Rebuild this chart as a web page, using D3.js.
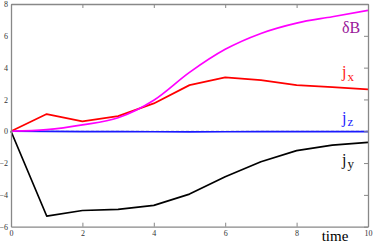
<!DOCTYPE html>
<html>
<head>
<meta charset="utf-8">
<script src="https://cdn.jsdelivr.net/npm/d3@7"></script>
<style>
  body { margin: 0; background: #fff; }
</style>
</head>
<body>
<div id="container"></div>
<script>
let w = 374;
let h = 243;

// data
let times = [0, 1, 2, 3, 4, 5, 6, 7, 8, 9, 10];
let deltaB = [0, 0.1, 0.4, 0.85, 1.95, 3.7, 5.15, 6.15, 6.8, 7.2, 7.6];
let jx = [0, 1.08, 0.62, 0.95, 1.75, 2.9, 3.39, 3.22, 2.9, 2.78, 2.63];
let jy = [0, -5.33, -4.98, -4.91, -4.66, -3.95, -2.86, -1.92, -1.22, -0.87, -0.7];
let jz = [0, -0.01, -0.02, -0.02, -0.03, -0.04, -0.03, -0.02, -0.02, -0.02, -0.02];
let xTicks = [0, 2, 4, 6, 8, 10];
let yTicks = [-6, -4, -2, 0, 2, 4, 6, 8];

let serif = "Liberation Serif";

let viz = d3.select("#container")
  .append("svg")
    .attr("width", w)
    .attr("height", h);

let xScale = d3.scaleLinear().domain([0, 10]).range([11, 368]);
let yScale = d3.scaleLinear().domain([-6, 8]).range([226.7, 4]);

// zero line (dashed)
viz.append("line")
  .attr("x1", xScale(0)).attr("x2", xScale(10))
  .attr("y1", yScale(0)).attr("y2", yScale(0))
  .attr("stroke", "#999")
  .attr("stroke-width", 1)
  .attr("stroke-dasharray", "3,2");

// series
let series = [
  { name: "jz", values: jz, color: "#1a1aff", curve: d3.curveLinear },
  { name: "jy", values: jy, color: "#000000", curve: d3.curveLinear },
  { name: "jx", values: jx, color: "#ff0000", curve: d3.curveLinear },
  { name: "dB", values: deltaB, color: "#ff00ff", curve: d3.curveMonotoneX }
];

series.forEach(function(s){
  let lineMaker = d3.line()
    .x(function(d, i){ return xScale(times[i]); })
    .y(function(d){ return yScale(d); })
    .curve(s.curve);
  viz.append("path")
    .datum(s.values)
    .attr("d", lineMaker)
    .attr("fill", "none")
    .attr("stroke", s.color)
    .attr("stroke-width", 1.7)
    .attr("stroke-linejoin", "round");
});

// axes: labelled left and bottom, ticks inward on bottom, top and right
let axisColor = "#888";

let bottomAxis = d3.axisBottom(xScale).tickValues(xTicks).tickSizeInner(-4).tickSizeOuter(0).tickPadding(4);
let xAxisGroup = viz.append("g")
  .attr("transform", "translate(0," + yScale(-6) + ")")
  .call(bottomAxis);

let topAxis = d3.axisTop(xScale).tickValues(xTicks).tickSizeInner(-4).tickSizeOuter(0).tickFormat("");
let topGroup = viz.append("g")
  .attr("transform", "translate(0," + yScale(8) + ")")
  .call(topAxis);

let leftAxis = d3.axisLeft(yScale).tickValues(yTicks).tickSize(0).tickPadding(3);
let yAxisGroup = viz.append("g")
  .attr("transform", "translate(" + xScale(0) + ",0)")
  .call(leftAxis);

let rightAxis = d3.axisRight(yScale).tickValues(yTicks).tickSizeInner(-4).tickSizeOuter(0).tickFormat("");
let rightGroup = viz.append("g")
  .attr("transform", "translate(" + xScale(10) + ",0)")
  .call(rightAxis);

[xAxisGroup, topGroup, yAxisGroup, rightGroup].forEach(function(g){
  g.attr("font-family", serif).attr("font-size", 8);
  g.select(".domain").attr("stroke", axisColor).attr("stroke-width", 1.3);
  g.selectAll(".tick line").attr("stroke", axisColor).attr("stroke-width", 1);
  g.selectAll(".tick text").attr("fill", "#333");
});

// axis title
viz.append("text")
  .attr("x", 335)
  .attr("y", 241)
  .attr("text-anchor", "middle")
  .attr("fill", "#000")
  .attr("font-family", serif)
  .attr("font-size", 15)
  .text("time");

// series labels
let labels = [
  { main: "δB", sub: "", x: 342, y: 33, subDy: 0, color: "#9a1a9a" },
  { main: "j", sub: "x", x: 342, y: 77, subDy: 4, color: "#ff2020" },
  { main: "j", sub: "z", x: 342, y: 123, subDy: 3, color: "#2222ff" },
  { main: "j", sub: "y", x: 342, y: 165, subDy: 3, color: "#111" }
];

labels.forEach(function(l){
  let t = viz.append("text")
    .attr("x", l.x)
    .attr("y", l.y)
    .attr("fill", l.color)
    .attr("font-family", serif)
    .attr("font-size", 16)
    .text(l.main);
  if (l.sub) {
    t.append("tspan")
      .attr("dx", 1)
      .attr("dy", l.subDy)
      .attr("font-size", 13)
      .text(l.sub);
  }
});
</script>
</body>
</html>
